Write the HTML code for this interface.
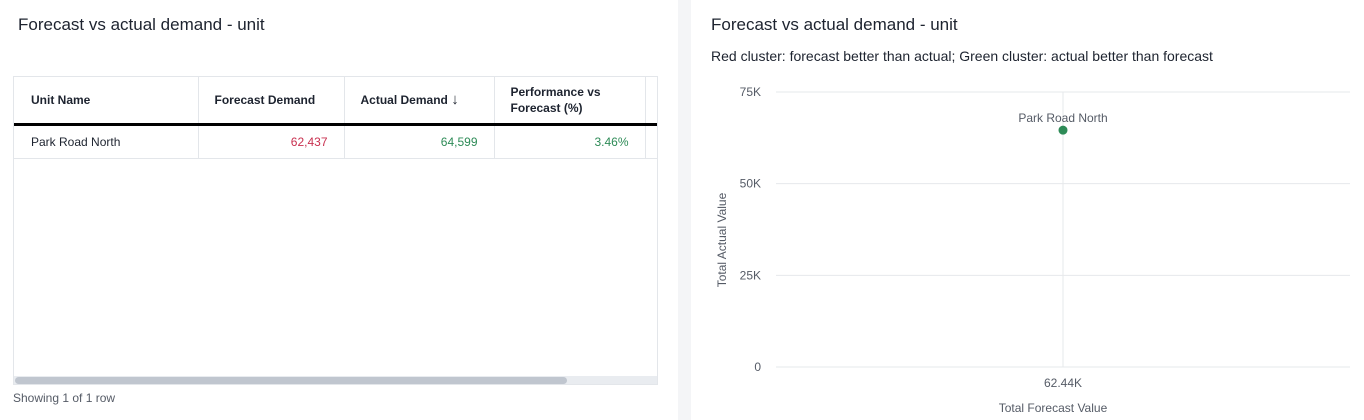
<!DOCTYPE html>
<html><head><meta charset="utf-8"><style>
body{margin:0;width:1364px;height:420px;background:#f4f5f7;font-family:"Liberation Sans",sans-serif;overflow:hidden;position:relative}
.panel{position:absolute;top:0;height:420px;background:#fff}
.t{position:absolute;font-size:17px;color:#1d232f}
table{border-collapse:collapse;font-size:12px;color:#1d232f;table-layout:fixed}
</style></head><body>
<div class="panel" style="left:0;width:678px">
<div class="t" style="left:18px;top:15px">Forecast vs actual demand - unit</div>
<div style="position:absolute;left:13px;top:76px;width:645px;height:309px;border:1px solid #e3e6ea;box-sizing:border-box;overflow:hidden">
<table style="width:660px">
<colgroup><col style="width:184px"><col style="width:146px"><col style="width:150px"><col style="width:151px"><col style="width:29px"></colgroup>
<tr style="height:47px;border-bottom:3px solid #000;font-weight:bold">
<td style="padding-left:17px;border-right:1px solid #e3e6ea">Unit Name</td>
<td style="padding-left:16px;border-right:1px solid #e3e6ea">Forecast Demand</td>
<td style="padding-left:16px;border-right:1px solid #e3e6ea">Actual Demand <span style="font-size:15px;font-weight:normal">↓</span></td>
<td style="padding-left:16px;border-right:1px solid #e3e6ea;line-height:16px">Performance vs<br>Forecast (%)</td>
<td></td></tr>
<tr style="height:34px;border-bottom:1px solid #e3e6ea">
<td style="padding-left:17px;border-right:1px solid #e3e6ea">Park Road North</td>
<td style="text-align:right;padding-right:16px;color:#c8304f;border-right:1px solid #e3e6ea">62,437</td>
<td style="text-align:right;padding-right:16px;color:#2e8b57;border-right:1px solid #e3e6ea">64,599</td>
<td style="text-align:right;padding-right:16px;color:#2e8b57;border-right:1px solid #e3e6ea">3.46%</td>
<td></td></tr>
</table>
<div style="position:absolute;left:0;top:299px;width:645px;height:10px;background:#e9ecf0">
<div style="position:absolute;left:1px;top:1px;width:552px;height:7px;border-radius:4px;background:#c0c6cf"></div></div>
</div>
<div style="position:absolute;left:13px;top:391px;font-size:12px;color:#555b66">Showing 1 of 1 row</div>
</div>
<div class="panel" style="left:691px;width:673px">
<div class="t" style="left:20px;top:15px">Forecast vs actual demand - unit</div>
<div style="position:absolute;left:20px;top:48px;font-size:14px;color:#1d232f">Red cluster: forecast better than actual; Green cluster: actual better than forecast</div>
</div>
<svg id="chart" width="1364" height="420" style="position:absolute;left:0;top:0" font-family="Liberation Sans, sans-serif"></svg>
<script>
const names=["Park Road North"];
const forecast=[62437];
const actual=[64599];
const yTicks=[0,25000,50000,75000];
const yTickLabels=["0","25K","50K","75K"];
const xTickLabels=["62.44K"];
const NS="http://www.w3.org/2000/svg",svg=document.getElementById('chart');
const X0=776,X1=1350,Y0=367,Y1=92;
const xMax=forecast[0]*2,yMax=75000;
const xs=v=>X0+v/xMax*(X1-X0), ys=v=>Y0-v/yMax*(Y0-Y1);
function mk(t,a,txt){const e=document.createElementNS(NS,t);for(const k in a)e.setAttribute(k,a[k]);if(txt!==undefined)e.textContent=txt;svg.appendChild(e);return e;}
yTicks.forEach((v,i)=>{
const g=mk('line',{x1:X0,x2:X1,y1:ys(v),y2:ys(v),stroke:'#e6e8eb'});


const t=mk('text',{x:761,y:ys(v)+4,'text-anchor':'end','font-size':12,fill:'#555b66'},yTickLabels[i]);


});
forecast.forEach((f,i)=>{
const v=mk('line',{x1:xs(f),x2:xs(f),y1:Y1,y2:Y0,stroke:'#e6e8eb'});


const t=mk('text',{x:xs(f),y:387,'text-anchor':'middle','font-size':12,fill:'#555b66'},xTickLabels[i]);


const c=mk('circle',{cx:xs(f),cy:ys(actual[i]),r:4.5,fill:actual[i]>=f?'#2e8b57':'#c8304f'});


const l=mk('text',{x:xs(f),y:ys(actual[i])-8,'text-anchor':'middle','font-size':12,fill:'#555b66'},names[i]);


});
const xt=mk('text',{x:1053,y:412,'text-anchor':'middle','font-size':12,fill:'#555b66'},'Total Forecast Value');


const yt=mk('text',{x:0,y:0,'text-anchor':'middle','font-size':12,fill:'#555b66',transform:'translate(726,240) rotate(-90)'},'Total Actual Value');


</script>
</body></html>
